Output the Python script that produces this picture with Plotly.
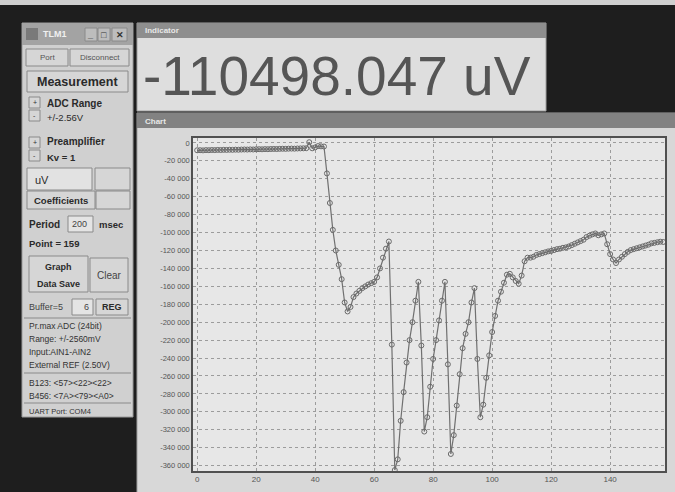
import plotly.graph_objects as go

# ---------------- data ----------------
point_index = list(range(159))
voltage_uv = [
    -8200, -8100, -8300, -8000, -8100, -7900, -8000, -7800, -7900, -7700,
    -7800, -7600, -7700, -7500, -7600, -7400, -7300, -7400, -7200, -7300,
    -7100, -7000, -7100, -6900, -7000, -6800, -6700, -6800, -6600, -6500,
    -6600, -6400, -6300, -6400, -6200, -6100, -6000, -5900, 800, -6000,
    -5000, -3500, -3800, -4000, -34000, -67000, -97000, -120000, -136000, -152000,
    -178000, -188000, -183000, -172000, -168000, -165000, -162000, -160000, -158000, -156500,
    -155000, -150000, -140000, -128000, -118000, -110000, -225000, -365000, -353000, -310000,
    -278000, -245000, -220000, -200000, -176000, -155000, -226000, -322000, -306000, -272000,
    -241000, -220000, -198000, -176000, -155000, -247000, -347000, -326000, -293000, -258000,
    -229000, -213000, -200000, -178000, -162000, -241000, -306000, -292000, -262000, -237000,
    -211000, -193000, -176000, -166000, -156000, -147000, -146000, -150000, -154000, -157000,
    -148000, -132000, -128000, -128000, -127000, -125000, -124000, -123000, -122000, -121000,
    -120500, -119500, -118500, -118000, -117000, -116500, -115500, -114000, -112500, -111000,
    -109500, -108000, -105000, -103500, -102000, -101000, -103000, -102000, -101000, -113000,
    -124000, -130000, -134000, -130000, -127000, -124000, -121500, -119500, -118500, -117500,
    -116500, -115500, -114500, -113500, -112000, -111500, -110800, -110200, -110500,
]
y_tick_values = [0, -20000, -40000, -60000, -80000, -100000, -120000, -140000, -160000,
                 -180000, -200000, -220000, -240000, -260000, -280000, -300000, -320000,
                 -340000, -360000]
y_tick_labels = ["0", "-20 000", "-40 000", "-60 000", "-80 000", "-100 000", "-120 000",
                 "-140 000", "-160 000", "-180 000", "-200 000", "-220 000", "-240 000",
                 "-260 000", "-280 000", "-300 000", "-320 000", "-340 000", "-360 000"]
x_tick_values = [0, 20, 40, 60, 80, 100, 120, 140]
indicator_text = "-110498.047 uV"

W, H = 675, 492


def px(x):
    return x / W


def py(y):
    return 1 - y / H


shapes = []


def rect(x0, y0, x1, y1, fill, line=None, lw=1):
    shapes.append(dict(type="rect", xref="paper", yref="paper", layer="below",
                       x0=px(x0), x1=px(x1), y0=py(y1), y1=py(y0),
                       fillcolor=fill,
                       line=dict(color=line or fill, width=lw if line else 0)))


def hline(x0, x1, y, color="#8a8a8a", lw=1):
    shapes.append(dict(type="line", xref="paper", yref="paper", layer="below",
                       x0=px(x0), x1=px(x1), y0=py(y), y1=py(y),
                       line=dict(color=color, width=lw)))


annotations = []
SANS = "Liberation Sans, Arial, sans-serif"


def text(x, y, s, size=9, color="#2a2a2a", bold=False, anchor="left", family=SANS):
    annotations.append(dict(xref="paper", yref="paper", x=px(x), y=py(y),
                            text=f"<b>{s}</b>" if bold else s, showarrow=False,
                            xanchor=anchor, yanchor="middle",
                            font=dict(size=size, color=color, family=family)))


# background pieces
rect(0, 0, 675, 5, "#cfcfcf")
# left panel
rect(22, 23, 133, 417, "#d0d0d0", "#9a9a9a")
rect(22, 23, 133, 45, "#a3a3a3")
rect(26, 28, 38, 40, "#7a7a7a")
rect(85, 28, 97, 41, "#bdbdbd", "#8a8a8a")
rect(98, 28, 110, 41, "#bdbdbd", "#8a8a8a")
rect(112, 28, 127, 41, "#bdbdbd", "#8a8a8a")
# buttons
rect(26, 49, 68, 66, "#d6d6d6", "#8a8a8a")
rect(70, 49, 129, 66, "#d6d6d6", "#8a8a8a")
rect(27, 71, 128, 92, "#d6d6d6", "#8a8a8a")
rect(29, 97, 40, 108, "#d6d6d6", "#8a8a8a")
rect(29, 110, 40, 121, "#d6d6d6", "#8a8a8a")
rect(29, 137, 40, 148, "#d6d6d6", "#8a8a8a")
rect(29, 150, 40, 161, "#d6d6d6", "#8a8a8a")
rect(27, 168, 92, 190, "#e2e2e2", "#8a8a8a")
rect(95, 168, 130, 190, "#d6d6d6", "#8a8a8a")
rect(27, 191, 95, 209, "#d6d6d6", "#8a8a8a")
rect(96, 191, 130, 209, "#d6d6d6", "#8a8a8a")
rect(68, 216, 93, 232, "#e4e4e4", "#8a8a8a")
rect(29, 256, 88, 292, "#d6d6d6", "#8a8a8a")
rect(90, 258, 128, 292, "#d6d6d6", "#8a8a8a")
rect(72, 299, 93, 315, "#e4e4e4", "#8a8a8a")
rect(96, 299, 128, 315, "#d6d6d6", "#8a8a8a")
hline(24, 131, 318)
hline(24, 131, 373)
hline(24, 131, 403)
# indicator window
rect(137, 23, 546, 111, "#dedede", "#a0a0a0")
rect(137, 23, 546, 38, "#8e8e8e")
# chart window
rect(137, 113, 676, 493, "#d8d8d8", "#a0a0a0")
rect(137, 113, 676, 128, "#828282")
# plot area
rect(193, 138, 665, 471, "#e7e7e7")

# left panel texts
text(41, 34, "TLM1", 9, "#f0f0f0", True)
text(91, 35, "_", 9, "#333", True, "center")
text(104, 35, "□", 9, "#333", False, "center")
text(119.5, 35, "✕", 9, "#333", True, "center")
text(47, 57.5, "Port", 8, "#555", False, "center")
text(99.5, 57.5, "Disconnect", 8, "#555", False, "center")
text(77.5, 81.5, "Measurement", 12.5, "#2a2a2a", True, "center")
text(34.5, 102.5, "+", 7, "#333", False, "center")
text(34.5, 115.5, "-", 7, "#333", False, "center")
text(45, 103, "ADC Range", 10, "#2a2a2a", True)
text(45, 117, "+/-2.56V", 9.5, "#2a2a2a")
text(34.5, 142.5, "+", 7, "#333", False, "center")
text(34.5, 155.5, "-", 7, "#333", False, "center")
text(45, 142, "Preamplifier", 10, "#2a2a2a", True)
text(45, 157, "Kv = 1", 9.5, "#2a2a2a", True)
text(33, 180, "uV", 11, "#2a2a2a")
text(61, 200, "Coefficients", 9.5, "#2a2a2a", True, "center")
text(27, 224, "Period", 10, "#2a2a2a", True)
text(70, 224, "200", 9, "#444")
text(97, 224, "msec", 9.5, "#2a2a2a", True)
text(27, 243, "Point = 159", 9.5, "#2a2a2a", True)
text(58.5, 267, "Graph", 9, "#2a2a2a", True, "center")
text(58.5, 284, "Data Save", 9, "#2a2a2a", True, "center")
text(109, 275, "Clear", 10, "#444", False, "center")
text(27, 307, "Buffer=5", 9, "#444")
text(86, 307, "6", 9, "#444", False, "center")
text(112, 307, "REG", 9, "#2a2a2a", True, "center")
text(27, 326, "Pr.max ADC (24bit)", 8.5, "#333")
text(27, 339, "Range: +/-2560mV", 8.5, "#333")
text(27, 352, "Input:AIN1-AIN2", 8.5, "#333")
text(27, 365, "External REF (2.50V)", 8.5, "#333")
text(27, 383, "B123: &lt;57&gt;&lt;22&gt;&lt;22&gt;", 8.5, "#333")
text(27, 396, "B456: &lt;7A&gt;&lt;79&gt;&lt;A0&gt;", 8.5, "#333")
text(27, 411, "UART Port: COM4", 7.5, "#333")
# window titles
text(143, 30.5, "Indicator", 8, "#e8e8e8", True)
text(143, 121, "Chart", 8, "#e8e8e8", True)
# indicator value
text(141, 76, indicator_text, 55, "#555555", False, "left", SANS)

fig = go.Figure()
fig.add_trace(go.Scatter(
    x=point_index, y=voltage_uv, mode="lines+markers",
    line=dict(color="#707070", width=1.2),
    marker=dict(symbol="circle-open", size=5, color="#6a6a6a", line=dict(width=1)),
    showlegend=False, hoverinfo="x+y",
))

fig.update_layout(
    width=W, height=H,
    margin=dict(l=0, r=0, t=0, b=0),
    paper_bgcolor="#1e1e1e",
    plot_bgcolor="rgba(0,0,0,0)",
    shapes=shapes,
    annotations=annotations,
    xaxis=dict(domain=[px(193), px(665)], range=[-1.4, 158.6],
               tickvals=x_tick_values, ticks="", showline=True, mirror=True,
               linecolor="#505050", linewidth=1.5,
               showgrid=True, gridcolor="#9c9c9c", griddash="dot", gridwidth=1,
               zeroline=False, tickfont=dict(size=8, color="#555", family=SANS)),
    yaxis=dict(domain=[py(471), py(138)], range=[-366000, 5500],
               tickvals=y_tick_values, ticktext=y_tick_labels, ticks="",
               showline=True, mirror=True, linecolor="#505050", linewidth=1.5,
               showgrid=True, gridcolor="#9c9c9c", griddash="dot", gridwidth=1,
               zeroline=False, tickfont=dict(size=7.5, color="#555", family=SANS)),
)

fig.write_html("out.html", config={"displayModeBar": False},
               post_script="document.body.style.margin='0';document.body.style.background='#1e1e1e';")
